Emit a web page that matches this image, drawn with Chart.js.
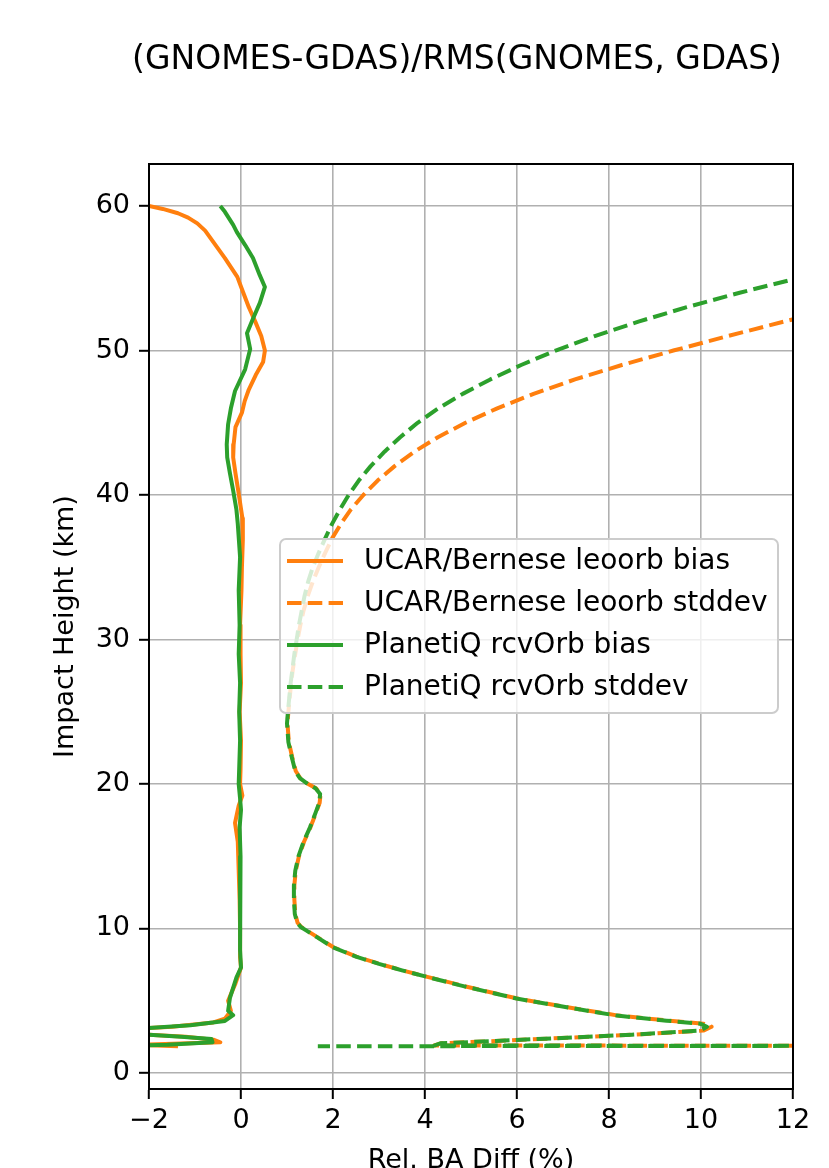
<!DOCTYPE html>
<html>
<head>
<meta charset="utf-8">
<script src="https://cdn.jsdelivr.net/npm/chart.js@4.4.1/dist/chart.umd.min.js"></script>
<style>
  html, body { margin: 0; padding: 0; background: #fff; }
  #wrap { width: 829px; height: 1168px; }
</style>
</head>
<body>
<div id="wrap"><canvas id="chart" width="829" height="1168"></canvas></div>
<script>
'use strict';

// ── Data ───────────────────────────────────────────────────────────────────

var TITLE   = '(GNOMES-GDAS)/RMS(GNOMES, GDAS)';
var X_LABEL = 'Rel. BA Diff (%)';
var Y_LABEL = 'Impact Height (km)';

var X_TICKS = [-2, 0, 2, 4, 6, 8, 10, 12];
var Y_TICKS = [0, 10, 20, 30, 40, 50, 60];

// UCAR/Bernese leoorb bias
var ucarBiasH = [60.0, 59.8, 59.5, 59.2, 58.8, 58.3, 57.5, 56.4, 55.1, 54.0, 53.0, 52.0, 51.0, 50.0,
  49.2, 48.3, 47.3, 46.5, 45.7, 44.7, 43.5, 42.6, 41.5, 40.3, 38.4, 36.9, 35.0, 33.4, 31.0, 29.0,
  27.0, 25.0, 23.0, 21.0, 20.0, 19.2, 18.5, 17.3, 16.0, 14.0, 12.0, 10.0, 8.0, 7.3, 6.2, 5.0, 4.3,
  3.75, 3.5, 3.2, 3.05, 2.7, 2.5, 2.3, 2.12, 1.95, 1.85];
var ucarBiasX = [-2.0, -1.7, -1.37, -1.15, -0.95, -0.78, -0.6, -0.35, -0.08, 0.05, 0.17, 0.31, 0.44, 0.52,
  0.48, 0.32, 0.17, 0.08, 0.02, -0.12, -0.16, -0.17, -0.12, -0.06, 0.03, 0.04, 0.02, 0.01, -0.02, -0.01,
  0.0, -0.03, 0.0, -0.01, -0.02, 0.03, -0.05, -0.13, -0.07, -0.05, -0.03, -0.02, -0.02, 0.0, -0.12, -0.28, -0.22,
  -0.35, -0.6, -1.5, -2.3, -2.3, -1.2, -0.6, -0.45, -2.2, -1.37];

// UCAR/Bernese leoorb stddev
var ucarStdH = [60, 55, 54, 53, 52, 51, 50, 49, 48, 47, 46, 45, 44, 43, 42, 41, 40, 39, 38, 37, 36,
  35, 34, 33, 32, 31, 30, 29, 28, 27, 26, 25, 24.2, 22.9, 21.9, 20.9, 20.4, 20.0, 19.7, 19.3, 18.7,
  18.0, 17.0, 16.0, 15.0, 14.0, 13.0, 12.0, 11.0, 10.4, 10.1, 9.8, 9.4, 8.7, 8.05, 7.55, 7.1, 6.65,
  5.95, 5.15, 4.55, 3.97, 3.62, 3.41, 3.2, 2.93, 2.65, 2.44, 2.23, 2.05, 1.9, 1.88];
var ucarStdX = [20.0, 15.2, 14.1, 13.1, 11.8, 10.58, 9.4, 8.28, 7.26, 6.36, 5.57, 4.88, 4.28, 3.77, 3.34,
  2.97, 2.66, 2.39, 2.17, 1.98, 1.83, 1.69, 1.56, 1.45, 1.36, 1.29, 1.23, 1.18, 1.13, 1.09, 1.06, 1.03,
  1.01, 1.04, 1.11, 1.19, 1.29, 1.46, 1.63, 1.73, 1.71, 1.63, 1.51, 1.37, 1.26, 1.19, 1.16, 1.16, 1.18,
  1.23, 1.31, 1.46, 1.66, 2.01, 2.51, 3.01, 3.51, 4.05, 4.93, 6.01, 7.1, 8.2, 9.3, 10.05, 10.23, 10.05,
  8.55, 7.1, 5.65, 4.35, 4.2, 14.0];

// PlanetiQ rcvOrb bias
var piqBiasH = [60.0, 59.6, 58.7, 58.2, 57.3, 56.4, 55.2, 54.4, 53.3, 52.2, 51.2, 50.1, 48.7, 47.2,
  46.0, 44.9, 43.5, 42.6, 41.5, 40.3, 39.0, 38.0, 35.7, 33.4, 31.0, 29.0, 27.0, 25.0, 23.0, 21.0,
  20.0, 19.0, 18.2, 17.0, 15.0, 13.0, 11.9, 10.0, 8.5, 7.3, 6.6, 5.2, 4.3, 4.0, 3.6, 3.3, 3.05,
  2.7, 2.5, 2.35, 2.12, 1.95, 1.88];
var piqBiasX = [-0.45, -0.35, -0.17, -0.09, 0.09, 0.26, 0.41, 0.52, 0.41, 0.26, 0.13, 0.20, 0.09, -0.13,
  -0.22, -0.28, -0.31, -0.30, -0.24, -0.17, -0.10, -0.07, -0.02, -0.05, -0.03, -0.05, -0.02, -0.04, -0.02, -0.04,
  -0.05, -0.02, 0.0, -0.03, -0.01, -0.02, -0.02, -0.02, -0.02, 0.0, -0.1, -0.24, -0.28, -0.17, -0.35, -1.1, -2.3,
  -2.3, -1.3, -0.64, -0.62, -1.6, -2.5];

// PlanetiQ rcvOrb stddev
var piqStdH = [60, 57, 56, 55, 54, 53, 52, 51, 50, 49, 48, 47, 46, 45, 44, 43, 42, 41, 40, 39, 38, 37,
  36, 35, 34, 33, 32, 31, 30, 29, 28, 27, 26, 25, 24.2, 22.9, 21.9, 20.9, 20.4, 20.0, 19.7, 19.3, 18.7,
  18.0, 17.0, 16.0, 15.0, 14.0, 13.0, 12.0, 11.0, 10.4, 10.1, 9.8, 9.4, 8.7, 8.05, 7.55, 7.1, 6.65,
  5.95, 5.15, 4.55, 3.97, 3.62, 3.41, 3.2, 2.93, 2.65, 2.44, 2.23, 2.05, 1.9, 1.88, 1.85];
var piqStdX = [18.0, 14.6, 13.3, 12.09, 10.84, 9.69, 8.64, 7.69, 6.84, 6.09, 5.42, 4.82, 4.29, 3.84, 3.46,
  3.12, 2.82, 2.56, 2.34, 2.15, 1.98, 1.83, 1.69, 1.56, 1.46, 1.38, 1.32, 1.26, 1.21, 1.16, 1.12, 1.08,
  1.05, 1.02, 1.00, 1.03, 1.10, 1.18, 1.28, 1.45, 1.62, 1.72, 1.70, 1.62, 1.50, 1.36, 1.25, 1.18, 1.15,
  1.15, 1.17, 1.22, 1.30, 1.45, 1.65, 2.0, 2.5, 3.0, 3.5, 4.04, 4.91, 5.99, 7.08, 8.17, 9.25, 9.98, 10.13,
  9.98, 8.5, 7.08, 5.63, 4.33, 4.2, 14.0, 1.67];

// ── Styles ─────────────────────────────────────────────────────────────────

var ORANGE = '#ff7f0e';
var GREEN  = '#2ca02c';
var FONT   = '"DejaVu Sans", sans-serif';
var LINE_W = 4;
var DASH   = [14.5, 6.3];

var AREA = { left: 149, top: 164, right: 793, bottom: 1089 };

function toPoints(xs, hs) {
  return xs.map(function (x, i) { return { x: x, y: hs[i] }; });
}

function series(label, xs, hs, color, dashed, order) {
  return {
    label: label,
    data: toPoints(xs, hs),
    borderColor: color,
    backgroundColor: color,
    borderWidth: LINE_W,
    borderDash: dashed ? DASH : [],
    borderJoinStyle: 'round',
    borderCapStyle: 'butt',
    pointRadius: 0,
    showLine: true,
    fill: false,
    tension: 0,
    clip: 0,
    order: order,
  };
}

var datasets = [
  series('UCAR/Bernese leoorb bias',   ucarBiasX, ucarBiasH, ORANGE, false, 4),
  series('UCAR/Bernese leoorb stddev', ucarStdX,  ucarStdH,  ORANGE, true,  3),
  series('PlanetiQ rcvOrb bias',       piqBiasX,  piqBiasH,  GREEN,  false, 2),
  series('PlanetiQ rcvOrb stddev',     piqStdX,   piqStdH,   GREEN,  true,  1),
];

// ── Decorations: frame, titles, legend ─────────────────────────────────────

var decorPlugin = {
  id: 'decor',
  afterDatasetsDraw: function (chart) {
    var ctx = chart.ctx, a = chart.chartArea;
    ctx.save();
    ctx.strokeStyle = '#000';
    ctx.lineWidth = 2;
    ctx.strokeRect(a.left, a.top, a.right - a.left, a.bottom - a.top);
    ctx.restore();
  },
  afterDraw: function (chart) {
    var ctx = chart.ctx, a = chart.chartArea;
    ctx.save();
    ctx.fillStyle = '#000';

    // title
    ctx.font = '33px ' + FONT;
    ctx.textAlign = 'center';
    ctx.textBaseline = 'middle';
    ctx.fillText(TITLE, 457, 60);

    // axis labels
    ctx.font = '27px ' + FONT;
    ctx.textBaseline = 'top';
    ctx.fillText(X_LABEL, (a.left + a.right) / 2, 1147);
    ctx.save();
    ctx.translate(66, (a.top + a.bottom) / 2);
    ctx.rotate(-Math.PI / 2);
    ctx.textBaseline = 'middle';
    ctx.fillText(Y_LABEL, 0, 0);
    ctx.restore();

    // legend, "center right"
    var box = { x: 280, y: 539, w: 498, h: 174 };
    ctx.fillStyle = 'rgba(255,255,255,0.8)';
    ctx.strokeStyle = '#cccccc';
    ctx.lineWidth = 2;
    ctx.beginPath();
    ctx.roundRect(box.x, box.y, box.w, box.h, 6);
    ctx.fill();
    ctx.stroke();

    ctx.font = '28px ' + FONT;
    ctx.textAlign = 'left';
    ctx.textBaseline = 'middle';
    datasets.forEach(function (d, i) {
      var y = 561 + i * 42;
      ctx.strokeStyle = d.borderColor;
      ctx.lineWidth = LINE_W;
      ctx.setLineDash(d.borderDash);
      ctx.beginPath();
      ctx.moveTo(287, y);
      ctx.lineTo(343, y);
      ctx.stroke();
      ctx.setLineDash([]);
      ctx.fillStyle = '#000';
      ctx.fillText(d.label, 364, y + 1);
    });
    ctx.restore();
  },
};

// ── Chart ──────────────────────────────────────────────────────────────────

function tickText(v) {
  return v < 0 ? '\u2212' + Math.abs(v) : String(v);
}

var axisGrid = {
  color: '#b0b0b0',
  lineWidth: 1.6,
  tickColor: '#000',
  tickLength: 10,
  tickWidth: 2,
  drawTicks: true,
};

new Chart(document.getElementById('chart'), {
  type: 'scatter',
  data: { datasets: datasets },
  plugins: [decorPlugin],
  options: {
    responsive: false,
    animation: false,
    devicePixelRatio: 1,
    layout: { padding: { top: AREA.top, right: 829 - AREA.right, bottom: 0, left: 0 } },
    scales: {
      x: {
        type: 'linear',
        min: -2,
        max: 12,
        grid: axisGrid,
        border: { display: true, color: '#000', width: 2 },
        afterBuildTicks: function (s) { s.ticks = X_TICKS.map(function (v) { return { value: v }; }); },
        afterFit: function (s) { s.height = 1168 - AREA.bottom; },
        ticks: {
          color: '#000',
          padding: 6,
          maxRotation: 0,
          font: { family: FONT, size: 27 },
          callback: tickText,
        },
      },
      y: {
        type: 'linear',
        min: -1.11,
        max: 62.91,
        grid: axisGrid,
        border: { display: true, color: '#000', width: 2 },
        afterBuildTicks: function (s) { s.ticks = Y_TICKS.map(function (v) { return { value: v }; }); },
        afterFit: function (s) { s.width = AREA.left; },
        ticks: {
          color: '#000',
          padding: 9,
          font: { family: FONT, size: 27 },
          callback: tickText,
        },
      },
    },
    plugins: {
      legend: { display: false },
      title: { display: false },
      tooltip: { enabled: false },
    },
  },
});
</script>
</body>
</html>
